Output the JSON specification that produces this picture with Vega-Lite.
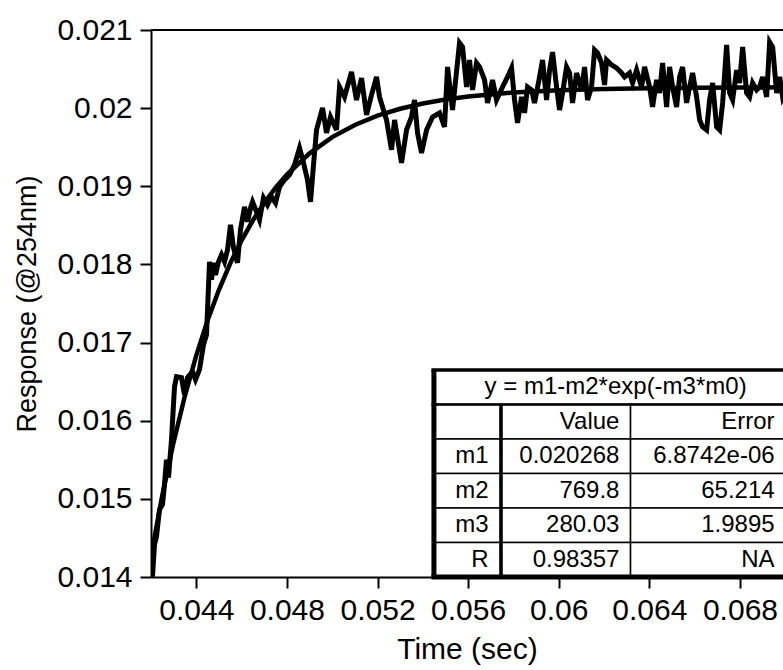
{
  "$schema": "https://vega.github.io/schema/vega-lite/v6.json",
  "width": 632,
  "height": 547,
  "autosize": "none",
  "padding": {"left": 151, "top": 30, "right": 0, "bottom": 93},
  "background": "white",
  "config": {
    "view": {"stroke": null},
    "font": "Liberation Sans",
    "axis": {
      "domainColor": "black", "domainWidth": 2, "tickColor": "black", "tickWidth": 2, "tickSize": 11,
      "labelColor": "black", "titleColor": "black", "labelFont": "Liberation Sans", "titleFont": "Liberation Sans",
      "labelFontSize": 30, "titleFontSize": 30, "titleFontWeight": "normal", "grid": false
    }
  },
  "datasets": {
    "measured": [
      {"time": 0.042, "response": 0.014249}, {"time": 0.042066, "response": 0.014006}, {"time": 0.042155, "response": 0.014416},
      {"time": 0.042243, "response": 0.014518}, {"time": 0.042375, "response": 0.014863}, {"time": 0.042508, "response": 0.014927},
      {"time": 0.042596, "response": 0.015183}, {"time": 0.042684, "response": 0.015502}, {"time": 0.042773, "response": 0.015272},
      {"time": 0.042905, "response": 0.015758}, {"time": 0.043038, "response": 0.016436}, {"time": 0.043126, "response": 0.016563},
      {"time": 0.043347, "response": 0.016551}, {"time": 0.043479, "response": 0.016333}, {"time": 0.043611, "response": 0.016551},
      {"time": 0.043832, "response": 0.016627}, {"time": 0.043965, "response": 0.016525}, {"time": 0.044141, "response": 0.016653},
      {"time": 0.044318, "response": 0.016973}, {"time": 0.04445, "response": 0.0171}, {"time": 0.044583, "response": 0.018034},
      {"time": 0.044671, "response": 0.017804}, {"time": 0.044759, "response": 0.018021}, {"time": 0.044848, "response": 0.017867},
      {"time": 0.04498, "response": 0.018034}, {"time": 0.045113, "response": 0.018123}, {"time": 0.045245, "response": 0.018034},
      {"time": 0.045378, "response": 0.018187}, {"time": 0.04551, "response": 0.018507}, {"time": 0.045642, "response": 0.018213},
      {"time": 0.045819, "response": 0.018021}, {"time": 0.045951, "response": 0.018443}, {"time": 0.046128, "response": 0.018737},
      {"time": 0.04626, "response": 0.018545}, {"time": 0.046393, "response": 0.018724}, {"time": 0.046481, "response": 0.018801},
      {"time": 0.046658, "response": 0.018673}, {"time": 0.04679, "response": 0.018571}, {"time": 0.046967, "response": 0.018852},
      {"time": 0.047143, "response": 0.018762}, {"time": 0.04732, "response": 0.018865}, {"time": 0.047497, "response": 0.018788},
      {"time": 0.047673, "response": 0.018993}, {"time": 0.047894, "response": 0.019082}, {"time": 0.048115, "response": 0.019146},
      {"time": 0.048335, "response": 0.019274}, {"time": 0.048556, "response": 0.019491}, {"time": 0.048733, "response": 0.019299},
      {"time": 0.048909, "response": 0.019082}, {"time": 0.049042, "response": 0.018801}, {"time": 0.049174, "response": 0.019274},
      {"time": 0.049307, "response": 0.019721}, {"time": 0.049572, "response": 0.020003}, {"time": 0.049748, "response": 0.019683},
      {"time": 0.049925, "response": 0.019887}, {"time": 0.05019, "response": 0.019721}, {"time": 0.050322, "response": 0.020271},
      {"time": 0.050543, "response": 0.020143}, {"time": 0.050852, "response": 0.020463}, {"time": 0.051073, "response": 0.020105},
      {"time": 0.051294, "response": 0.020386}, {"time": 0.051514, "response": 0.019913}, {"time": 0.051735, "response": 0.020169},
      {"time": 0.051956, "response": 0.020399}, {"time": 0.052088, "response": 0.020143}, {"time": 0.052397, "response": 0.019849},
      {"time": 0.052618, "response": 0.019466}, {"time": 0.052751, "response": 0.019849}, {"time": 0.05306, "response": 0.019299},
      {"time": 0.053281, "response": 0.019721}, {"time": 0.053501, "response": 0.019887}, {"time": 0.053634, "response": 0.020105},
      {"time": 0.053766, "response": 0.019683}, {"time": 0.053943, "response": 0.019427}, {"time": 0.054164, "response": 0.019721},
      {"time": 0.054429, "response": 0.019887}, {"time": 0.054738, "response": 0.019939}, {"time": 0.054958, "response": 0.01976},
      {"time": 0.055091, "response": 0.020527}, {"time": 0.055311, "response": 0.019977}, {"time": 0.05562, "response": 0.020834},
      {"time": 0.055753, "response": 0.020782}, {"time": 0.05593, "response": 0.020271}, {"time": 0.056062, "response": 0.020616},
      {"time": 0.056195, "response": 0.020233}, {"time": 0.056371, "response": 0.020578}, {"time": 0.056504, "response": 0.020527},
      {"time": 0.056725, "response": 0.020361}, {"time": 0.056857, "response": 0.020067}, {"time": 0.057078, "response": 0.020361},
      {"time": 0.057254, "response": 0.020105}, {"time": 0.057519, "response": 0.020271}, {"time": 0.05774, "response": 0.020399},
      {"time": 0.057917, "response": 0.020514}, {"time": 0.058049, "response": 0.020105}, {"time": 0.058182, "response": 0.019811},
      {"time": 0.058358, "response": 0.020143}, {"time": 0.058491, "response": 0.019939}, {"time": 0.058623, "response": 0.020271},
      {"time": 0.0588, "response": 0.020233}, {"time": 0.058932, "response": 0.020067}, {"time": 0.059153, "response": 0.020399},
      {"time": 0.059286, "response": 0.020616}, {"time": 0.059462, "response": 0.020105}, {"time": 0.059595, "response": 0.020488},
      {"time": 0.059727, "response": 0.020718}, {"time": 0.059904, "response": 0.020271}, {"time": 0.060036, "response": 0.019977},
      {"time": 0.060169, "response": 0.020194}, {"time": 0.060345, "response": 0.020527}, {"time": 0.060478, "response": 0.02045},
      {"time": 0.06061, "response": 0.020067}, {"time": 0.060787, "response": 0.02045}, {"time": 0.061008, "response": 0.020233},
      {"time": 0.06114, "response": 0.020527}, {"time": 0.061273, "response": 0.020105}, {"time": 0.061449, "response": 0.020271},
      {"time": 0.061582, "response": 0.020744}, {"time": 0.061714, "response": 0.020706}, {"time": 0.061891, "response": 0.020578},
      {"time": 0.062023, "response": 0.020297}, {"time": 0.062112, "response": 0.020616}, {"time": 0.062333, "response": 0.020552},
      {"time": 0.062553, "response": 0.020514}, {"time": 0.062774, "response": 0.02045}, {"time": 0.062907, "response": 0.020399},
      {"time": 0.063127, "response": 0.02045}, {"time": 0.06326, "response": 0.020322}, {"time": 0.063436, "response": 0.020488},
      {"time": 0.063657, "response": 0.020271}, {"time": 0.06379, "response": 0.020527}, {"time": 0.064011, "response": 0.020271},
      {"time": 0.064143, "response": 0.020015}, {"time": 0.06432, "response": 0.020361}, {"time": 0.064452, "response": 0.020194},
      {"time": 0.064585, "response": 0.020578}, {"time": 0.064761, "response": 0.020015}, {"time": 0.064894, "response": 0.020527},
      {"time": 0.065026, "response": 0.020271}, {"time": 0.065203, "response": 0.020015}, {"time": 0.065335, "response": 0.020399},
      {"time": 0.065468, "response": 0.020527}, {"time": 0.065645, "response": 0.020067}, {"time": 0.065777, "response": 0.020271},
      {"time": 0.06591, "response": 0.02045}, {"time": 0.066086, "response": 0.020143}, {"time": 0.066219, "response": 0.019849},
      {"time": 0.066351, "response": 0.01976}, {"time": 0.066528, "response": 0.019721}, {"time": 0.06666, "response": 0.020105},
      {"time": 0.066793, "response": 0.020322}, {"time": 0.06697, "response": 0.01976}, {"time": 0.067102, "response": 0.019721},
      {"time": 0.067235, "response": 0.020067}, {"time": 0.067411, "response": 0.020808}, {"time": 0.067544, "response": 0.020194},
      {"time": 0.067676, "response": 0.020105}, {"time": 0.067853, "response": 0.020488}, {"time": 0.067985, "response": 0.020322},
      {"time": 0.068118, "response": 0.020782}, {"time": 0.068294, "response": 0.020194}, {"time": 0.068427, "response": 0.020143},
      {"time": 0.068559, "response": 0.020322}, {"time": 0.068736, "response": 0.020233}, {"time": 0.068868, "response": 0.020271},
      {"time": 0.069001, "response": 0.020399}, {"time": 0.069178, "response": 0.020143}, {"time": 0.06931, "response": 0.020846},
      {"time": 0.069443, "response": 0.020782}, {"time": 0.069619, "response": 0.020194}, {"time": 0.069752, "response": 0.020399},
      {"time": 0.069884, "response": 0.020143}, {"time": 0.070017, "response": 0.020233}
    ],
    "fitted": [
      {"time": 0.042, "response": 0.014263}, {"time": 0.0425, "response": 0.015047}, {"time": 0.043, "response": 0.015729},
      {"time": 0.0435, "response": 0.016322}, {"time": 0.044, "response": 0.016837}, {"time": 0.0445, "response": 0.017285},
      {"time": 0.045, "response": 0.017675}, {"time": 0.0455, "response": 0.018015}, {"time": 0.046, "response": 0.018309},
      {"time": 0.0465, "response": 0.018565}, {"time": 0.047, "response": 0.018787}, {"time": 0.0475, "response": 0.018981},
      {"time": 0.048, "response": 0.019149}, {"time": 0.049, "response": 0.019422}, {"time": 0.05, "response": 0.019629},
      {"time": 0.051, "response": 0.019785}, {"time": 0.052, "response": 0.019903}, {"time": 0.053, "response": 0.019992},
      {"time": 0.054, "response": 0.020059}, {"time": 0.055, "response": 0.02011}, {"time": 0.056, "response": 0.020149},
      {"time": 0.058, "response": 0.0202}, {"time": 0.06, "response": 0.020229}, {"time": 0.062, "response": 0.020246},
      {"time": 0.064, "response": 0.020255}, {"time": 0.066, "response": 0.020261}, {"time": 0.068, "response": 0.020264},
      {"time": 0.07, "response": 0.020266}
    ],
    "fitTable": [
      {"row": "title", "label": "y = m1-m2*exp(-m3*m0)", "value": "", "error": ""},
      {"row": "header", "label": "", "value": "Value", "error": "Error"},
      {"row": "m1", "label": "m1", "value": "0.020268", "error": "6.8742e-06"},
      {"row": "m2", "label": "m2", "value": "769.8", "error": "65.214"},
      {"row": "m3", "label": "m3", "value": "280.03", "error": "1.9895"},
      {"row": "R", "label": "R", "value": "0.98357", "error": "NA"}
    ]
  },
  "layer": [
    {
      "layer": [
        {
          "data": {"values": [{}]},
          "mark": {"type": "rule", "color": "black", "strokeWidth": 2},
          "encoding": {"y": {"datum": 0.021, "type": "quantitative"}}
        },
        {
          "data": {"name": "measured"},
          "mark": {"type": "line", "color": "black", "strokeWidth": 5, "strokeJoin": "miter", "clip": true},
          "encoding": {
            "x": {
              "field": "time", "type": "quantitative",
              "scale": {"domain": [0.042, 0.0699], "nice": false, "zero": false},
              "axis": {"values": [0.044, 0.048, 0.052, 0.056, 0.06, 0.064, 0.068], "format": "~g", "labelPadding": 7,
                       "labelFlush": false, "labelOverlap": false, "title": "Time (sec)", "titlePadding": 9}
            },
            "y": {
              "field": "response", "type": "quantitative",
              "scale": {"domain": [0.014, 0.021], "nice": false, "zero": false},
              "axis": {"values": [0.014, 0.015, 0.016, 0.017, 0.018, 0.019, 0.02, 0.021], "format": "~g", "labelPadding": 8,
                       "labelFlush": false, "labelOverlap": false, "title": "Response (@254nm)", "titleFontSize": 27, "titlePadding": 15}
            }
          }
        },
        {
          "data": {"name": "fitted"},
          "mark": {"type": "line", "color": "black", "strokeWidth": 4.5, "clip": true},
          "encoding": {
            "x": {"field": "time", "type": "quantitative"},
            "y": {"field": "response", "type": "quantitative"}
          }
        }
      ]
    },
    {
      "data": {"name": "fitTable"},
      "encoding": {
        "y": {"field": "row", "type": "ordinal",
              "scale": {"type": "band", "domain": ["title", "header", "m1", "m2", "m3", "R"], "range": [340, 547], "paddingInner": 0, "paddingOuter": 0},
              "axis": null}
      },
      "layer": [
        {
          "transform": [{"filter": "datum.row === 'title'"}],
          "mark": {"type": "rect", "fill": "white", "stroke": "black", "strokeWidth": 1.5},
          "encoding": {"x": {"datum": 0.05447}, "x2": {"datum": 0.0702}}
        },
        {
          "transform": [{"filter": "datum.row !== 'title'"}],
          "mark": {"type": "rect", "fill": "white", "stroke": "black", "strokeWidth": 1.5},
          "encoding": {"x": {"datum": 0.05447}, "x2": {"datum": 0.05745}}
        },
        {
          "transform": [{"filter": "datum.row !== 'title'"}],
          "mark": {"type": "rect", "fill": "white", "stroke": "black", "strokeWidth": 1.5},
          "encoding": {"x": {"datum": 0.05745}, "x2": {"datum": 0.06317}}
        },
        {
          "transform": [{"filter": "datum.row !== 'title'"}],
          "mark": {"type": "rect", "fill": "white", "stroke": "black", "strokeWidth": 1.5},
          "encoding": {"x": {"datum": 0.06317}, "x2": {"datum": 0.0702}}
        },
        {
          "mark": {"type": "rect", "fill": "black"},
          "encoding": {"x": {"datum": 0.05438}, "x2": {"datum": 0.0546}}
        },
        {
          "transform": [{"filter": "datum.row !== 'title'"}],
          "mark": {"type": "rect", "fill": "black"},
          "encoding": {"x": {"datum": 0.05737}, "x2": {"datum": 0.05753}}
        },
        {
          "transform": [{"filter": "datum.row === 'title'"}],
          "mark": {"type": "rule", "color": "black", "strokeWidth": 3.5},
          "encoding": {"y": {"field": "row", "type": "ordinal", "bandPosition": 0}, "x": {"datum": 0.05438}, "x2": {"datum": 0.0702}}
        },
        {
          "transform": [{"filter": "datum.row === 'header'"}],
          "mark": {"type": "rule", "color": "black", "strokeWidth": 2.5},
          "encoding": {"y": {"field": "row", "type": "ordinal", "bandPosition": 0}, "x": {"datum": 0.05438}, "x2": {"datum": 0.0702}}
        },
        {
          "transform": [{"filter": "datum.row === 'R'"}],
          "mark": {"type": "rule", "color": "black", "strokeWidth": 5},
          "encoding": {"y": {"field": "row", "type": "ordinal", "bandPosition": 1}, "x": {"datum": 0.05438}, "x2": {"datum": 0.0702}}
        },
        {
          "transform": [{"filter": "datum.row === 'title'"}],
          "mark": {"type": "text", "align": "center", "baseline": "middle", "fontSize": 24, "font": "Liberation Sans", "color": "black"},
          "encoding": {"x": {"datum": 0.06251}, "text": {"field": "label"}}
        },
        {
          "transform": [{"filter": "datum.row !== 'title'"}],
          "mark": {"type": "text", "align": "right", "baseline": "middle", "fontSize": 24, "font": "Liberation Sans", "color": "black"},
          "encoding": {"x": {"datum": 0.0569}, "text": {"field": "label"}}
        },
        {
          "transform": [{"filter": "datum.row !== 'title'"}],
          "mark": {"type": "text", "align": "right", "baseline": "middle", "fontSize": 24, "font": "Liberation Sans", "color": "black"},
          "encoding": {"x": {"datum": 0.06268}, "text": {"field": "value"}}
        },
        {
          "transform": [{"filter": "datum.row !== 'title'"}],
          "mark": {"type": "text", "align": "right", "baseline": "middle", "fontSize": 24, "font": "Liberation Sans", "color": "black"},
          "encoding": {"x": {"datum": 0.06953}, "text": {"field": "error"}}
        }
      ]
    }
  ],
  "resolve": {"scale": {"y": "independent"}, "axis": {"y": "independent"}}
}
